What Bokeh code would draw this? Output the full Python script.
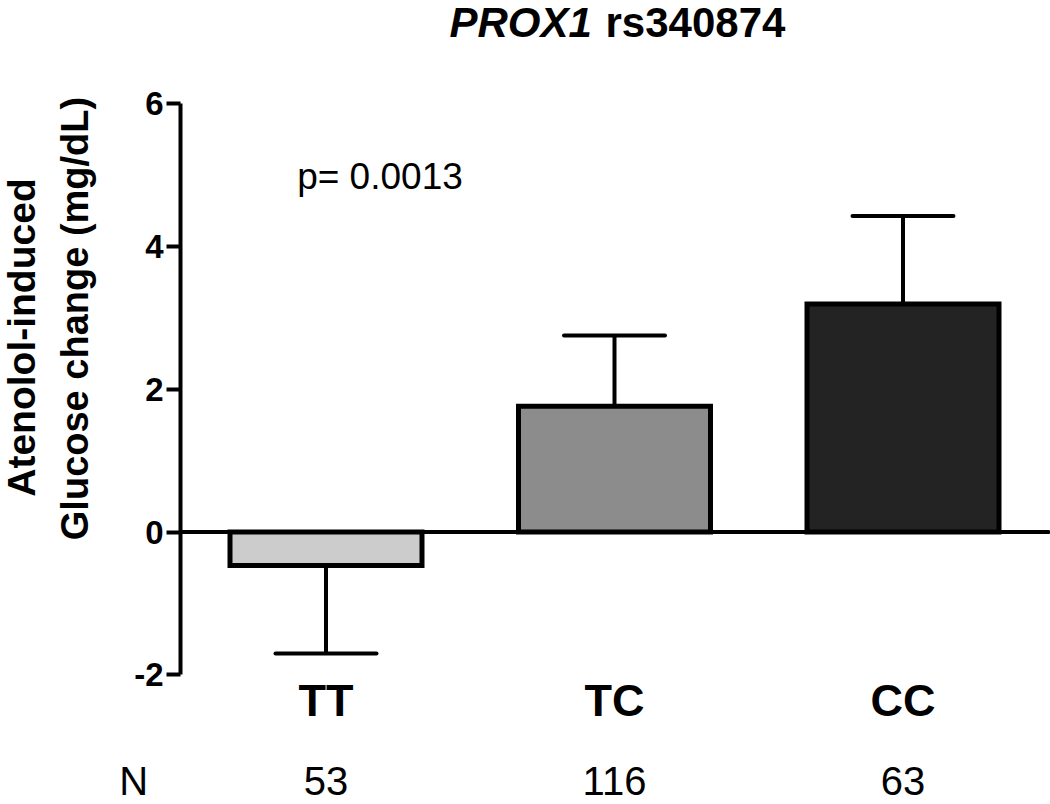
import numpy as np
from bokeh.plotting import figure
from bokeh.models import (Range1d, FixedTicker, Label, LabelSet, ColumnDataSource,
                          LinearAxis)
from bokeh.core.properties import value
from bokeh.embed import file_html
from bokeh.resources import INLINE

# ---- data ----
categories = ["TT", "TC", "CC"]
means = [-0.47, 1.76, 3.19]
errors = [1.23, 0.99, 1.23]
counts = [53, 116, 63]
y_ticks = [-2, 0, 2, 4, 6]
p_text = "p= 0.0013"
title_gene = "PROX1"
title_snp = "rs340874"
ylabel_lines = ["Atenolol-induced", "Glucose change (mg/dL)"]
n_label = "N"

# ---- style ----
FONT = "Liberation Sans"
bar_colors = ["#cccccc", "#8c8c8c", "#232323"]

xpos = np.arange(len(categories), dtype=float)
m = np.array(means)
e = np.array(errors)
ends = m + np.sign(m) * e

# frame covers the whole canvas; axes are drawn at fixed locations
X0, X1 = -1.12825, 2.51127
Y0, Y1 = -3.8112, 7.4336
p = figure(width=1050, height=804,
           x_range=Range1d(X0, X1), y_range=Range1d(Y0, Y1),
           x_axis_type=None, y_axis_type=None,
           output_backend="svg", toolbar_location=None, tools="",
           min_border_left=0, min_border_right=0,
           min_border_top=0, min_border_bottom=0)
p.title.visible = False
p.outline_line_color = None
p.background_fill_color = "white"
p.border_fill_color = "white"

AXIS_X = -0.50433   # y-axis position (data units)

# y axis
ya = LinearAxis(fixed_location=AXIS_X, bounds=(min(y_ticks), max(y_ticks)))
ya.ticker = FixedTicker(ticks=y_ticks)
ya.major_label_overrides = {t: str(t) for t in y_ticks}
ya.minor_tick_line_color = None
ya.major_tick_in = 0
ya.major_tick_out = 14
ya.major_tick_line_width = 4
ya.major_tick_line_color = "black"
ya.axis_line_width = 4
ya.axis_line_color = "black"
ya.major_label_text_font = FONT
ya.major_label_text_font_style = "bold"
ya.major_label_text_font_size = "33px"
ya.major_label_text_color = "black"
ya.major_label_standoff = 3
p.add_layout(ya, "left")

# x axis (category labels) at the bottom of the value axis
xa = LinearAxis(fixed_location=min(y_ticks))
xa.ticker = FixedTicker(ticks=list(xpos))
xa.major_label_overrides = {float(i): c for i, c in zip(xpos, categories)}
xa.axis_line_color = None
xa.major_tick_line_color = None
xa.minor_tick_line_color = None
xa.major_tick_out = 0
xa.major_tick_in = 0
xa.major_label_standoff = 0
xa.major_label_text_font = FONT
xa.major_label_text_font_style = "bold"
xa.major_label_text_font_size = "45px"
xa.major_label_text_color = "black"
p.add_layout(xa, "below")

# bars
p.vbar(x=xpos, top=m, bottom=0, width=0.6655, fill_color=bar_colors,
       line_color="black", line_width=5, line_join="miter")

# error bars (one-sided, away from zero)
p.segment(x0=xpos, y0=m, x1=xpos, y1=ends, line_color="black", line_width=4)
p.segment(x0=xpos - 0.175, y0=ends, x1=xpos + 0.175, y1=ends,
          line_color="black", line_width=4, line_cap="round")

# zero line
p.segment(x0=[AXIS_X], y0=[0], x1=[2.5043], y1=[0], line_color="black",
          line_width=4, line_cap="round")

# p value
p.add_layout(Label(x=-0.1, y=4.972, text=p_text, text_font=FONT,
                   text_font_size="37px", text_color="black",
                   text_align="left", text_baseline="middle"))

# title (two pieces: italic gene + plain snp)
p.add_layout(Label(x=0.428, y=7.126, text=title_gene, text_font=FONT,
                   text_font_style="bold italic", text_font_size="42px",
                   text_color="black", text_align="left", text_baseline="middle"))
p.add_layout(Label(x=0.9688, y=7.126, text=title_snp, text_font=FONT,
                   text_font_style="bold", text_font_size="42px",
                   text_color="black", text_align="left", text_baseline="middle"))

# y axis title (two rotated lines)
p.add_layout(Label(x=-1.0555, y=2.72, text=ylabel_lines[0], text_font=FONT,
                   text_font_style="bold", text_font_size="39px", angle=np.pi / 2,
                   text_color="black", text_align="center", text_baseline="middle"))
p.add_layout(Label(x=-0.8717, y=2.986, text=ylabel_lines[1], text_font=FONT,
                   text_font_style="bold", text_font_size="38px", angle=np.pi / 2,
                   text_color="black", text_align="center", text_baseline="middle"))

# N row
n_y = -3.685
n_src = ColumnDataSource(dict(x=[-0.667], y=[n_y], t=[n_label]))
p.add_layout(LabelSet(x="x", y="y", text="t", source=n_src, text_font=value(FONT),
                      text_font_size="40px", text_color="black",
                      text_align="center", text_baseline="alphabetic"))
src = ColumnDataSource(dict(x=xpos, y=[n_y] * len(counts), t=[str(c) for c in counts]))
p.add_layout(LabelSet(x="x", y="y", text="t", source=src, text_font=value(FONT),
                      text_font_size="40px", text_color="black",
                      text_align="center", text_baseline="alphabetic"))

open("out.html", "w").write(file_html(p, INLINE))
